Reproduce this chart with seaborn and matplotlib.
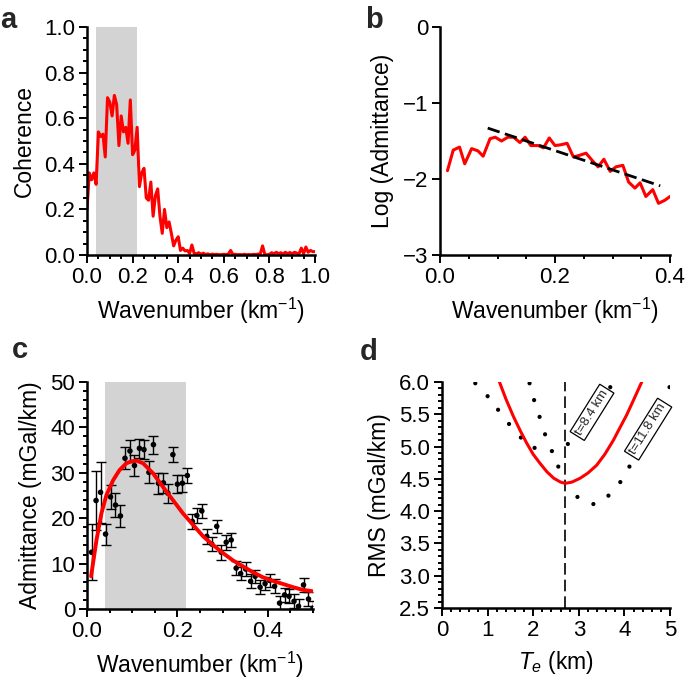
import numpy as np
import pandas as pd
import matplotlib
matplotlib.use("Agg")
import matplotlib.pyplot as plt
import seaborn as sns
from matplotlib.ticker import MultipleLocator

# ---------------- data ----------------
# (a) coherence
coh_k = np.round(np.arange(0, 101) * 0.01, 2)
coh_val = [0.20, 0.36, 0.33, 0.36, 0.31, 0.54, 0.52, 0.53, 0.43, 0.69,
           0.67, 0.61, 0.70, 0.66, 0.48, 0.61, 0.54, 0.56, 0.49, 0.68,
           0.44, 0.46, 0.56, 0.30, 0.36, 0.38, 0.25, 0.24, 0.32, 0.17,
           0.26, 0.29, 0.17, 0.095, 0.20, 0.12, 0.145, 0.095, 0.04, 0.065,
           0.08, 0.02, 0.03, 0.018, 0.02, 0.007, 0.044, 0.007, 0.005, 0.01,
           0.003, 0.008, 0.002, 0.005, 0.001, 0.004, 0.002, 0.003, 0.001, 0.002,
           0.003, 0.002, 0.004, 0.02, 0.002, 0.003, 0.001, 0.002, 0.001, 0.003,
           0.001, 0.002, 0.001, 0.003, 0.002, 0.004, 0.005, 0.04, 0.002, 0.001,
           0.003, 0.01, 0.005, 0.012, 0.006, 0.01, 0.004, 0.012, 0.006, 0.011,
           0.005, 0.012, 0.008, 0.006, 0.03, 0.006, 0.035, 0.012, 0.02, 0.015,
           0.015]
band = (0.04, 0.22)

# (b) log admittance
adm_k = [0.013, 0.023, 0.034, 0.043, 0.055, 0.066, 0.075, 0.087, 0.096, 0.107,
         0.118, 0.128, 0.139, 0.148, 0.158, 0.171, 0.180, 0.190, 0.200, 0.210,
         0.221, 0.232, 0.242, 0.254, 0.264, 0.275, 0.285, 0.296, 0.306, 0.318,
         0.328, 0.339, 0.348, 0.358, 0.370, 0.380, 0.391, 0.400]
log_adm = [-1.89, -1.62, -1.58, -1.80, -1.60, -1.63, -1.70, -1.47, -1.45, -1.50,
           -1.45, -1.45, -1.52, -1.45, -1.56, -1.56, -1.59, -1.46, -1.56, -1.55,
           -1.53, -1.71, -1.69, -1.66, -1.75, -1.84, -1.74, -1.90, -1.84, -1.82,
           -2.04, -2.12, -2.05, -2.23, -2.14, -2.32, -2.28, -2.23]
fit_k = [0.083, 0.383]
fit_log = [-1.33, -2.09]

# (c) admittance with error bars
obs_k = [0.010, 0.020, 0.030, 0.041, 0.052, 0.063, 0.074, 0.084, 0.095, 0.105,
         0.116, 0.126, 0.137, 0.147, 0.158, 0.169, 0.179, 0.190, 0.200, 0.211,
         0.222, 0.233, 0.243, 0.254, 0.265, 0.276, 0.287, 0.297, 0.308, 0.319,
         0.330, 0.340, 0.351, 0.362, 0.372, 0.383, 0.394, 0.404, 0.415, 0.426,
         0.437, 0.447, 0.458, 0.468, 0.479, 0.490, 0.500]
obs_adm = [12.5, 23.9, 25.7, 16.5, 24.7, 22.9, 20.5, 33.2, 34.8, 31.6,
           35.4, 35.1, 30.1, 36.2, 27.7, 27.8, 25.5, 34.0, 27.5, 27.7,
           29.4, 19.3, 20.6, 21.6, 16.0, 14.3, 18.2, 12.5, 14.7, 15.2,
           9.0, 7.8, 8.8, 6.1, 7.2, 4.8, 5.6, 6.3, 5.0, 1.3,
           3.1, 2.8, 1.7, 0.6, 5.3, 2.2, 0.2]
obs_err = [6.2, 6.5, 6.7, 2.3, 2.6, 2.6, 2.5, 2.4, 2.5, 2.4,
           2.1, 2.1, 2.4, 2.0, 2.3, 2.2, 2.1, 1.6, 2.0, 1.9,
           1.6, 1.6, 1.7, 1.6, 1.6, 1.5, 1.5, 1.6, 1.6, 1.5,
           1.5, 1.5, 1.5, 1.5, 1.5, 1.5, 1.5, 1.5, 1.5, 1.5,
           1.5, 1.5, 1.5, 1.5, 1.5, 1.5, 1.5]
mod_k = [0.009, 0.021, 0.032, 0.043, 0.058, 0.072, 0.087, 0.098, 0.109, 0.124,
         0.146, 0.168, 0.190, 0.212, 0.235, 0.257, 0.279, 0.301, 0.323, 0.345,
         0.367, 0.389, 0.411, 0.434, 0.456, 0.478, 0.500]
mod_adm = [7.2, 15.2, 21.1, 25.1, 28.4, 30.6, 32.1, 32.5, 32.7, 32.1,
           29.9, 26.9, 24.0, 21.1, 18.5, 16.0, 14.1, 12.3, 10.7, 9.4,
           8.1, 7.0, 6.2, 5.5, 4.8, 4.2, 3.9]

# (d) RMS misfit vs Te
te_red = [1.26, 1.40, 1.57, 1.72, 1.86, 2.00, 2.15, 2.30, 2.45, 2.60, 2.70,
          2.85, 3.03, 3.20, 3.39, 3.57, 3.76, 3.90, 4.05, 4.20, 4.38]
rms_red = [6.00, 5.74, 5.46, 5.24, 5.05, 4.88, 4.74, 4.61, 4.51, 4.45, 4.43,
           4.45, 4.51, 4.59, 4.71, 4.88, 5.10, 5.29, 5.49, 5.72, 6.00]
te_t84 = [1.92, 2.02, 2.14, 2.26, 2.41, 2.55, 2.76, 3.69]
rms_t84 = [5.98, 5.72, 5.46, 5.19, 4.93, 4.69, 5.04, 5.92]
te_t118 = [0.73, 1.00, 1.23, 1.47, 1.73, 2.03, 2.97, 3.32, 3.65, 3.91, 4.11, 4.82, 4.99]
rms_t118 = [5.98, 5.78, 5.57, 5.35, 5.14, 4.98, 4.22, 4.11, 4.24, 4.45, 4.69, 5.67, 5.92]
te_best = 2.7
labels_d = ["t=8.4 km", "t=11.8 km"]

# ---------------- style ----------------
sns.set_style("ticks")
plt.rcParams['font.family'] = ['Liberation Sans', 'DejaVu Sans']
plt.rcParams['mathtext.fontset'] = 'custom'
plt.rcParams['mathtext.rm'] = 'Liberation Sans'
plt.rcParams['mathtext.it'] = 'Liberation Sans:italic'
plt.rcParams['axes.edgecolor'] = 'black'
plt.rcParams['xtick.color'] = 'black'
plt.rcParams['ytick.color'] = 'black'
plt.rcParams['axes.labelcolor'] = 'black'

fig = plt.figure(figsize=(6.85, 6.82), dpi=100)
W, H = 685.0, 682.0


def make_ax(x0, x1, y0, y1):
    return fig.add_axes([x0 / W, 1 - y1 / H, (x1 - x0) / W, (y1 - y0) / H])


def style(ax):
    for s in ['top', 'right']:
        ax.spines[s].set_visible(False)
    for s in ['left', 'bottom']:
        ax.spines[s].set_linewidth(1.8)
    ax.tick_params(which='major', direction='out', length=6, width=1.4,
                   labelsize=16, pad=2.5)
    ax.tick_params(which='minor', direction='out', length=3, width=1.4)
    ax.set_facecolor('white')


label_fs = 16.5
wn_label = 'Wavenumber (km$^{-1}$)'
shade = '#d3d3d3'

# ---- (a)
ax = make_ax(87, 315, 27, 255)
style(ax)
ax.axvspan(*band, color=shade, lw=0, zorder=0)
sns.lineplot(x=coh_k, y=coh_val, ax=ax, color='red', lw=2.2, sort=False,
             estimator=None)
ax.set_xlim(0, 1)
ax.set_ylim(0, 1)
ax.xaxis.set_major_locator(MultipleLocator(0.2))
ax.xaxis.set_minor_locator(MultipleLocator(0.05))
ax.yaxis.set_major_locator(MultipleLocator(0.2))
ax.yaxis.set_minor_locator(MultipleLocator(0.05))
ax.set_xlabel(wn_label, fontsize=label_fs, labelpad=6)
ax.set_ylabel('Coherence', fontsize=label_fs, labelpad=6)

# ---- (b)
ax = make_ax(440, 670, 27, 255)
style(ax)
sns.lineplot(x=adm_k, y=log_adm, ax=ax, color='red', lw=2.2, sort=False,
             estimator=None)
sns.lineplot(x=fit_k, y=fit_log, ax=ax, color='black', lw=2.0, sort=False,
             estimator=None, linestyle=(0, (4.5, 2)))
ax.set_xlim(0, 0.4)
ax.set_ylim(-3, 0)
ax.xaxis.set_major_locator(MultipleLocator(0.2))
ax.xaxis.set_minor_locator(MultipleLocator(0.05))
ax.yaxis.set_major_locator(MultipleLocator(1))
ax.set_xlabel(wn_label, fontsize=label_fs, labelpad=6)
ax.set_ylabel('Log (Admittance)', fontsize=label_fs, labelpad=6)

# ---- (c)
ax = make_ax(87, 313, 382, 609)
style(ax)
ax.axvspan(*band, color=shade, lw=0, zorder=0)
ax.errorbar(obs_k, obs_adm, yerr=obs_err, fmt='none', ecolor='black',
            elinewidth=1.0, capsize=3.6, capthick=1.0, zorder=2)
sns.scatterplot(x=obs_k, y=obs_adm, ax=ax, color='black', s=16,
                edgecolor='none', zorder=3)
sns.lineplot(x=mod_k, y=mod_adm, ax=ax, color='red', lw=2.8, sort=False,
             estimator=None, zorder=4)
ax.set_xlim(0, 0.5)
ax.set_ylim(0, 50)
ax.xaxis.set_major_locator(MultipleLocator(0.2))
ax.xaxis.set_minor_locator(MultipleLocator(0.05))
ax.yaxis.set_major_locator(MultipleLocator(10))
ax.yaxis.set_minor_locator(MultipleLocator(2))
ax.set_xlabel(wn_label, fontsize=label_fs, labelpad=6)
ax.set_ylabel('Admittance (mGal/km)', fontsize=label_fs, labelpad=6)

# ---- (d)
ax = make_ax(442, 670, 382, 608)
style(ax)
sns.scatterplot(x=te_t84, y=rms_t84, ax=ax, color='black', s=9,
                edgecolor='none', zorder=3)
sns.scatterplot(x=te_t118, y=rms_t118, ax=ax, color='black', s=9,
                edgecolor='none', zorder=3)
sns.lineplot(x=te_red, y=rms_red, ax=ax, color='red', lw=2.2, sort=False,
             estimator=None, zorder=4)
ax.axvline(te_best, color='black', lw=1.2, linestyle=(0, (7, 3)), zorder=2)
box = dict(boxstyle='square,pad=0.18', facecolor='white', edgecolor='black',
           lw=0.9)
ax.text(3.29, 5.53, labels_d[0], rotation=58, fontsize=9.5, ha='center',
        va='center', bbox=box, zorder=5, rotation_mode='anchor')
ax.text(4.52, 5.27, labels_d[1], rotation=58, fontsize=9.5, ha='center',
        va='center', bbox=box, zorder=5, rotation_mode='anchor')
ax.set_xlim(0, 5)
ax.set_ylim(2.5, 6.0)
ax.xaxis.set_major_locator(MultipleLocator(1))
ax.xaxis.set_minor_locator(MultipleLocator(0.2))
ax.yaxis.set_major_locator(MultipleLocator(0.5))
ax.yaxis.set_minor_locator(MultipleLocator(0.1))
ax.set_xlabel('$T_e$ (km)', fontsize=label_fs, labelpad=6)
ax.set_ylabel('RMS (mGal/km)', fontsize=label_fs, labelpad=6)

# panel letters
for lab, px, py in [('a', 0, 28), ('b', 365, 28), ('c', 12, 358), ('d', 360, 360)]:
    fig.text(px / W, 1 - py / H, lab, fontsize=21, fontweight='bold',
             ha='left', va='baseline')

fig.savefig('out.png', dpi=100, facecolor='white')
